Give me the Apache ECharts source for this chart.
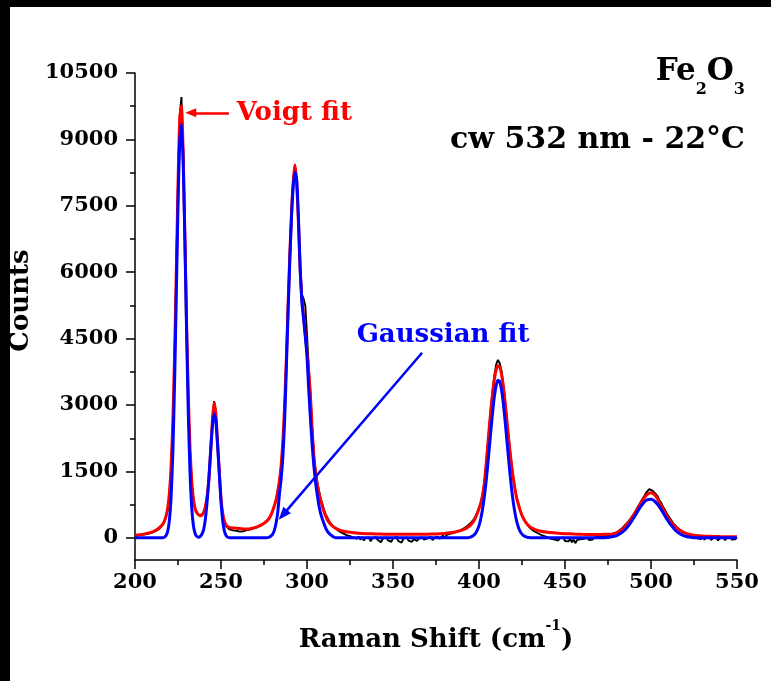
<!DOCTYPE html>
<html>
<head>
<meta charset="utf-8">
<title>Fe2O3 Raman spectrum</title>
<script src="https://cdn.jsdelivr.net/npm/echarts@6/dist/echarts.min.js"></script>
<style>
  html, body { margin: 0; padding: 0; background: #fff; }
  #chart { position: absolute; left: 0; top: 0; width: 771px; height: 681px; }
  .edge-top { position: absolute; left: 0; top: 0; width: 771px; height: 7px; background: #000; }
  .edge-left { position: absolute; left: 0; top: 0; width: 10px; height: 681px; background: #000; }
</style>
</head>
<body>
<div id="chart"></div>
<div class="edge-top"></div>
<div class="edge-left"></div>
<script>
// Measured spectrum, 1 cm^-1 steps starting at 200 cm^-1
const measuredStart = 200;
const measuredStep = 1;
const measuredCounts = [
  40, 15, 55, 30, 70, 45, 80, 60, 95, 75,                  // 200
  120, 105, 150, 140, 200, 230, 290, 350, 470, 640,        // 210
  990, 1580, 2600, 4080, 6000, 8000, 9550, 9955, 8800, 6850, // 220
  4800, 3150, 1980, 1250, 870, 660, 580, 520, 510, 530,    // 230
  590, 720, 950, 1330, 1960, 2680, 3090, 2820, 2160, 1480, // 240
  880, 530, 350, 260, 230, 190, 210, 170, 200, 160,        // 250
  190, 140, 180, 150, 130, 175, 140, 185, 160, 215,        // 260
  190, 240, 230, 280, 270, 330, 340, 400, 420, 520,        // 270
  600, 740, 850, 1070, 1290, 1660, 2180, 3020, 4030, 5260, // 280
  6420, 7380, 8080, 8430, 8030, 7200, 6150, 5500, 5400, 5250, // 290
  4600, 3850, 3280, 2500, 1900, 1500, 1260, 1060, 880, 760, // 300
  620, 520, 450, 370, 330, 270, 250, 200, 190, 140,        // 310
  150, 100, 120, 60, 90, 40, 70, 10, 50, -20,              // 320
  30, -40, 20, -60, 0, -30, 10, -80, -10, -50,             // 330
  20, -40, -10, -100, -20, -60, 10, -50, -20, -90,         // 340
  -10, -40, 20, -70, -30, -110, -20, -50, 10, -60,         // 350
  -20, -90, -30, 0, -70, -20, -50, 10, -40, -80,           // 360
  -10, -30, 20, -50, 0, -40, 30, -20, 10, 50,              // 370
  0, 60, 30, 90, 50, 110, 80, 140, 120, 170,               // 380
  150, 210, 200, 260, 280, 330, 360, 420, 490, 580,        // 390
  680, 800, 970, 1210, 1620, 2080, 2540, 2980, 3360, 3690, // 400
  3920, 4020, 3950, 3790, 3520, 3180, 2780, 2370, 2000, 1650, // 410
  1350, 1100, 900, 760, 620, 520, 430, 370, 300, 270,      // 420
  210, 200, 150, 160, 110, 120, 70, 90, 40, 60,            // 430
  10, 40, -20, 20, -40, 0, -60, -10, -50, 10,              // 440
  -70, -30, -80, -20, -100, -40, -120, -50, -90, -30,      // 450
  -70, -20, -60, 0, -50, -10, -40, 10, -30, 20,            // 460
  -10, 30, 0, 40, 20, 60, 40, 80, 70, 110,                 // 470
  110, 150, 160, 210, 230, 290, 310, 380, 410, 480,        // 480
  540, 600, 680, 740, 810, 880, 940, 1010, 1050, 1100,     // 490
  1090, 1060, 1030, 980, 930, 840, 790, 700, 640, 560,     // 500
  520, 440, 410, 330, 310, 240, 240, 180, 190, 130,        // 510
  150, 90, 110, 50, 80, 20, 50, -10, 30, -30,              // 520
  20, -40, 10, -20, 30, -50, 0, -30, 20, -60,              // 530
  -10, -30, 10, -50, 0, -20, 20, -40, 0, -30,              // 540
  10                                                       // 550
];

// Raman shift grid shared by the two fitted envelopes
const fitShift = [
  200, 205, 210, 213,
  214, 215, 216, 217, 218, 219,
  220, 221, 222, 223, 224, 225, 226, 227, 228, 229,
  230, 231, 232, 233, 234, 235, 236, 237, 238, 239,
  240, 241, 242, 243, 244, 245, 246, 247, 248, 249,
  250, 251, 252, 253, 254, 255, 256, 257, 258, 259,
  260, 261, 262, 263, 264, 265, 266, 267, 268, 269,
  270, 271, 272, 273, 274, 275, 276, 277, 278, 279,
  280, 281, 282, 283, 284, 285, 286, 287, 288, 289,
  290, 291, 292, 293, 294, 295, 296, 297, 298, 299,
  300, 301, 302, 303, 304, 305, 306, 307, 308, 309,
  310, 311, 312, 313, 314, 315, 316, 317, 318, 319,
  320,
  325, 330, 335, 340, 345, 350, 355, 360, 365, 370, 375, 380,
  383, 386, 389, 391,
  393, 394, 395, 396, 397, 398, 399,
  400, 401, 402, 403, 404, 405, 406, 407, 408, 409,
  410, 411, 412, 413, 414, 415, 416, 417, 418, 419,
  420, 421, 422, 423, 424, 425, 426, 427, 428, 429,
  430,
  433, 436, 440, 445, 450, 455, 460, 465, 470, 473,
  476, 478, 480, 482, 484, 486, 488, 490, 492, 494, 496, 498, 500,
  502, 504, 506, 508, 510, 512, 514, 516, 518, 520, 522, 524, 526,
  530, 535, 540, 545, 550
];

// Voigt fit envelope (counts)
const voigtFit = [
  60, 85, 135, 195,
  225, 260, 305, 375, 485, 670,
  1010, 1620, 2620, 4100, 5990, 7970, 9460, 9760, 8690, 6820,
  4840, 3190, 2010, 1270, 860, 650, 560, 520, 500, 520,
  580, 720, 960, 1330, 1950, 2650, 3060, 2800, 2150, 1500,
  900, 550, 370, 290, 252, 236, 228, 224, 221, 217,
  213, 209, 205, 201, 199, 199, 202, 208, 216, 226,
  237, 250, 265, 283, 305, 330, 358, 392, 440, 510,
  610, 720, 860, 1050, 1300, 1650, 2200, 3000, 4050, 5250,
  6400, 7350, 8050, 8420, 8000, 7150, 6100, 5400, 5000, 4600,
  4200, 3750, 3200, 2450, 1850, 1450, 1200, 1000, 840, 700,
  580, 480, 400, 340, 295, 260, 232, 210, 190, 175,
  162,
  125, 105, 95, 88, 84, 82, 80, 80, 80, 82, 88, 100,
  113, 132, 160, 185,
  225, 255, 285, 330, 385, 460, 550,
  660, 780, 950, 1200, 1600, 2050, 2500, 2930, 3300, 3600,
  3800, 3890, 3860, 3720, 3460, 3130, 2730, 2330, 1960, 1620,
  1330, 1080, 880, 740, 610, 505, 425, 360, 310, 270,
  240,
  180, 150, 125, 108, 95, 86, 80, 77, 77, 79,
  82, 90, 115, 155, 215, 300, 400, 520, 650, 780, 900, 990, 1020,
  975, 870, 720, 575, 445, 340, 255, 190, 140, 105, 80, 64, 54,
  42, 34, 29, 26, 24
];

// Gaussian fit envelope (counts)
const gaussianFit = [
  0, 0, 0, 0,
  0, 0, 4, 15, 46, 145,
  393, 930, 1930, 3480, 5470, 7500, 8970, 9345, 8490, 6720,
  4640, 2790, 1465, 671, 268, 93, 30, 15, 35, 90,
  200, 450, 850, 1380, 1980, 2520, 2810, 2640, 2100, 1450,
  820, 380, 150, 50, 15, 4, 0, 0, 0, 0,
  0, 0, 0, 0, 0, 0, 0, 0, 0, 0,
  0, 0, 0, 0, 0, 0, 0, 5, 15, 40,
  80, 170, 330, 580, 1000, 1350, 1850, 2650, 3850, 5100,
  6250, 7250, 7950, 8260, 8100, 7250, 6100, 5350, 4950, 4550,
  4100, 3350, 2700, 2100, 1620, 1250, 960, 720, 540, 420,
  310, 210, 140, 95, 60, 30, 12, 4, 0, 0,
  0,
  0, 0, 0, 0, 0, 0, 0, 0, 0, 0, 0, 0,
  0, 0, 0, 0,
  4, 9, 18, 33, 60, 104, 173,
  277, 427, 633, 899, 1228, 1612, 2034, 2464, 2869, 3209,
  3449, 3560, 3532, 3367, 3083, 2713, 2293, 1863, 1453, 1090,
  785, 544, 361, 231, 142, 84, 47, 26, 14, 7,
  3,
  0, 0, 0, 0, 0, 0, 0, 0, 0, 3,
  15, 29, 53, 92, 150, 230, 333, 454, 582, 704, 803, 862, 873,
  832, 748, 633, 505, 379, 269, 179, 113, 67, 37, 20, 10, 5,
  1, 0, 0, 0, 0
];

// Axis ticks
const yMajorTicks = [0, 1500, 3000, 4500, 6000, 7500, 9000, 10500];
const yMinorTicks = [750, 2250, 3750, 5250, 6750, 8250, 9750];

// Annotation anchors in data units (Raman shift, counts)
const voigtArrow = [[254.6, 9600], [232.4, 9600]];
const voigtLabelAt = [259.2, 9600];
const gaussArrow = [[366.9, 4180], [286.0, 520]];
const gaussLabelAt = [379.1, 4570];

const FONT = '"DejaVu Serif", serif';
const measuredSeries = measuredCounts.map((c, i) => [measuredStart + i * measuredStep, c]);
const voigtSeries = fitShift.map((s, i) => [s, voigtFit[i]]);
const gaussSeries = fitShift.map((s, i) => [s, gaussianFit[i]]);

const axisInk = { color: '#000', width: 1.5 };
const tickFont = { color: '#000', fontFamily: FONT, fontWeight: 'bold', fontSize: 21 };
const plainNumber = v => String(v);

const chart = echarts.init(document.getElementById('chart'), null, { renderer: 'canvas' });

chart.setOption({
  animation: false,
  backgroundColor: '#fff',
  grid: { left: 135, right: 34, top: 73, bottom: 121 },
  xAxis: {
    type: 'value', min: 200, max: 550, interval: 50,
    axisLine: { show: true, onZero: false, lineStyle: axisInk },
    axisTick: { show: true, length: 9, lineStyle: axisInk },
    minorTick: { show: true, splitNumber: 2, length: 5, lineStyle: axisInk },
    splitLine: { show: false },
    minorSplitLine: { show: false },
    axisLabel: Object.assign({ margin: 12, formatter: plainNumber }, tickFont),
    name: '{t|Raman Shift (cm}{sup|-1}{t|)}',
    nameLocation: 'middle',
    nameGap: 59,
    nameTextStyle: {
      rich: {
        t: { fontFamily: FONT, fontWeight: 'bold', fontSize: 26, color: '#000', verticalAlign: 'top', padding: [8, 0, 0, 0] },
        sup: { fontFamily: FONT, fontWeight: 'bold', fontSize: 14, color: '#000', verticalAlign: 'top' }
      }
    }
  },
  yAxis: [
    {
      type: 'value', min: -500, max: 10500,
      axisLine: { show: true, onZero: false, lineStyle: axisInk },
      axisTick: { show: true, length: 9, lineStyle: axisInk, customValues: yMajorTicks },
      axisLabel: Object.assign({ margin: 17, customValues: yMajorTicks, formatter: plainNumber }, tickFont),
      splitLine: { show: false },
      name: 'Counts',
      nameLocation: 'middle',
      nameRotate: 90,
      nameGap: 92,
      nameTextStyle: { fontFamily: FONT, fontWeight: 'bold', fontSize: 26, color: '#000', padding: [0, 0, 0, 32] }
    },
    {
      type: 'value', min: -500, max: 10500, position: 'left', offset: 0,
      axisLine: { show: false },
      axisTick: { show: true, length: 5, lineStyle: axisInk, customValues: yMinorTicks },
      axisLabel: { show: false },
      splitLine: { show: false }
    }
  ],
  series: [
    {
      name: 'Measured', type: 'line', data: measuredSeries,
      showSymbol: false, symbol: 'none', smooth: false, z: 2,
      lineStyle: { color: '#000', width: 1.9 }
    },
    {
      name: 'Voigt fit', type: 'line', data: voigtSeries,
      showSymbol: false, symbol: 'none', smooth: 0.2, z: 3,
      lineStyle: { color: '#ff0000', width: 3 },
      markLine: {
        silent: true, animation: false,
        symbol: ['none', 'triangle'], symbolSize: [9, 11],
        lineStyle: { color: '#ff0000', width: 2.5, type: 'solid' },
        label: { show: false },
        data: [[{ coord: voigtArrow[0] }, { coord: voigtArrow[1] }]]
      }
    },
    {
      name: 'Gaussian fit', type: 'line', data: gaussSeries,
      showSymbol: false, symbol: 'none', smooth: 0.2, z: 4,
      lineStyle: { color: '#0000ff', width: 3 },
      markLine: {
        silent: true, animation: false,
        symbol: ['none', 'triangle'], symbolSize: [10, 13],
        lineStyle: { color: '#0000ff', width: 2.5, type: 'solid' },
        label: { show: false },
        data: [[{ coord: gaussArrow[0] }, { coord: gaussArrow[1] }]]
      }
    }
  ]
});

// Annotation texts placed at their data anchors; sample titles top right
const toPx = p => chart.convertToPixel({ seriesIndex: 0 }, p);
const vPos = toPx(voigtLabelAt);
const gPos = toPx(gaussLabelAt);

chart.setOption({
  graphic: [
    {
      type: 'text', x: vPos[0], y: vPos[1], z: 10,
      style: { text: 'Voigt fit', fill: '#ff0000', font: 'bold 26px ' + FONT, align: 'left', verticalAlign: 'middle' }
    },
    {
      type: 'text', x: gPos[0], y: gPos[1], z: 10,
      style: { text: 'Gaussian fit', fill: '#0000ff', font: 'bold 26px ' + FONT, align: 'center', verticalAlign: 'middle' }
    },
    {
      type: 'text', x: 745, y: 56, z: 10,
      style: {
        text: '{m|Fe}{s|2}{m|O}{s|3}', align: 'right', verticalAlign: 'top',
        rich: {
          m: { fontFamily: FONT, fontWeight: 'bold', fontSize: 31, lineHeight: 31, fill: '#000', verticalAlign: 'top' },
          s: { fontFamily: FONT, fontWeight: 'bold', fontSize: 16, lineHeight: 16, fill: '#000', verticalAlign: 'top', padding: [26, 0, 0, 0] }
        }
      }
    },
    {
      type: 'text', x: 745, y: 140, z: 10,
      style: { text: 'cw 532 nm - 22°C', fill: '#000', font: 'bold 30px ' + FONT, align: 'right', verticalAlign: 'middle' }
    }
  ]
});
</script>
</body>
</html>
